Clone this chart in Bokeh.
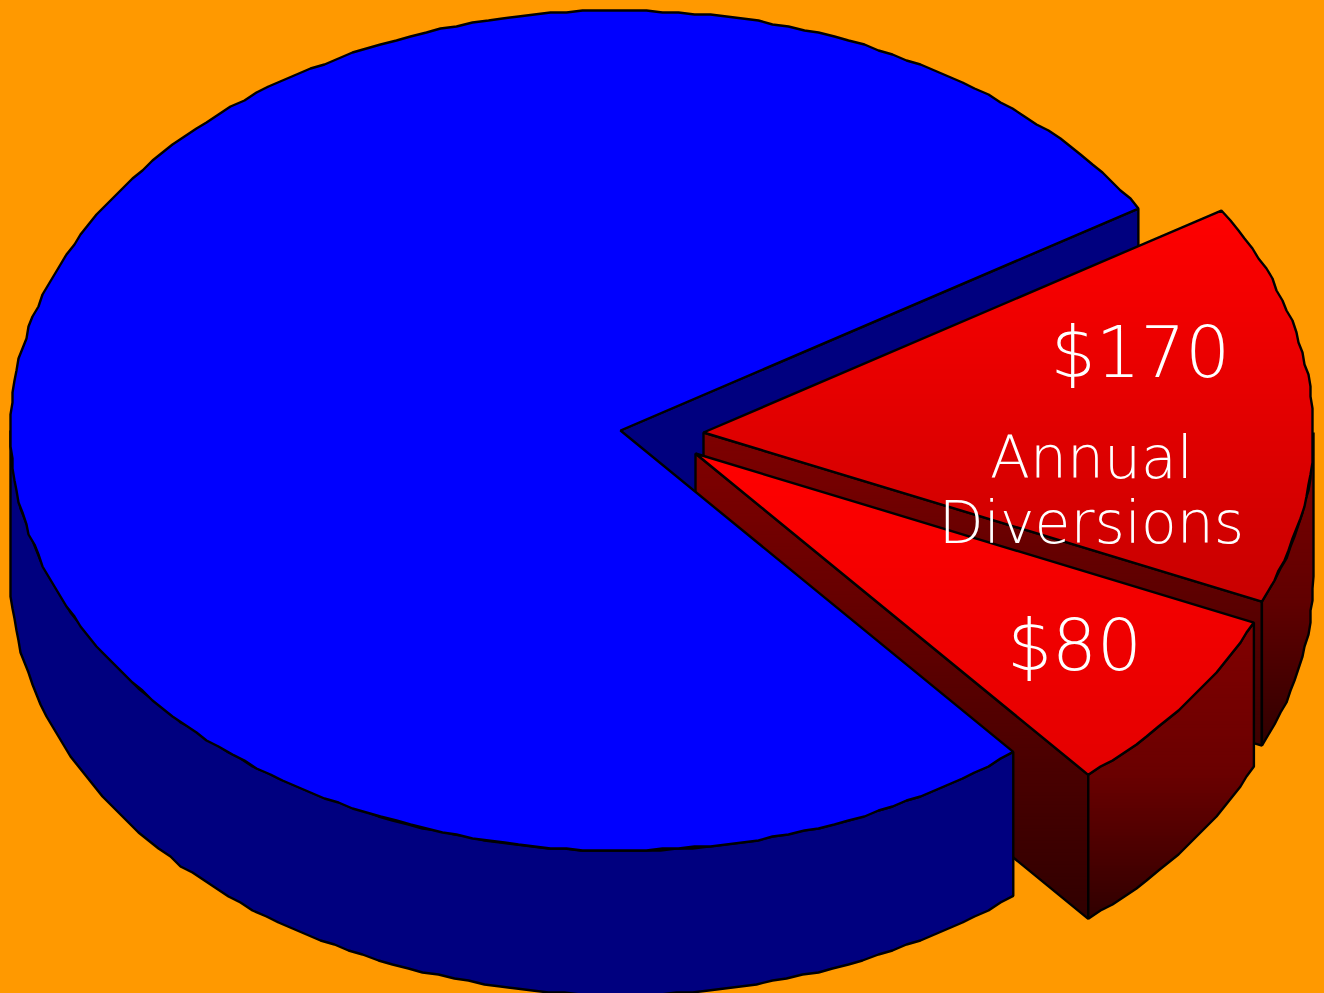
import numpy as np
from bokeh.plotting import figure
from bokeh.embed import file_html
from bokeh.resources import INLINE
from bokeh.core.properties import value

# ---- data ----
slice_names = ["Other", "Annual A", "Annual B"]
slice_values = [850, 170, 80]
value_labels = ["", "$170", "$80"]
caption_lines = ["Annual", "Diversions"]

# ---- layout / style ----
W, H = 1324, 993
CX, CY, RX, RY = 620.0, 430.0, 610.0, 420.0
DEPTH = 144.0
START_DEG = 31.9           # where the first red slice begins (clockwise from here)
OFF1 = (83.0, 2.0)
OFF2 = (75.0, 23.0)
BG = "#ff9900"
BLUE, DARKBLUE = "#0000ff", "#00007f"
FONT = "DejaVu Sans Light"
LW = 2.4

total = sum(slice_values)
sweep = [v / total * 360.0 for v in slice_values]
a0 = START_DEG
a1 = a0 - sweep[1]
a2 = a1 - sweep[2]


def arc(cx, cy, d_from, d_to, step=1.5, grid=2.0):
    n = max(2, int(abs(d_to - d_from) / step) + 1)
    t = np.radians(np.linspace(d_from, d_to, n))
    x = cx + RX * np.cos(t)
    y = cy - RY * np.sin(t)
    rx = np.round(x / grid) * grid
    ry = np.round(y / grid) * grid
    rx[0], ry[0], rx[-1], ry[-1] = x[0], y[0], x[-1], y[-1]
    return list(zip(rx.tolist(), ry.tolist()))


def clip(poly, yv, keep_below):
    out = []
    for i in range(len(poly)):
        p, q = poly[i], poly[(i + 1) % len(poly)]
        pin = p[1] >= yv if keep_below else p[1] <= yv
        qin = q[1] >= yv if keep_below else q[1] <= yv
        if pin:
            out.append(p)
        if pin != qin:
            t = (yv - p[1]) / (q[1] - p[1])
            out.append((p[0] + t * (q[0] - p[0]), yv))
    return out


def shift(poly, dy):
    return [(x, y + dy) for x, y in poly]


layers = []


def add_flat(poly, color):
    layers.append(("flat", poly, color))


def add_grad(poly, stops, step=3):
    layers.append(("grad", poly, stops, step))


# inner cut wall of the blue body
apex = (CX, CY)
e0 = (CX + RX * np.cos(np.radians(a0)), CY - RY * np.sin(np.radians(a0)))
add_flat([apex, e0, (e0[0], e0[1] + DEPTH), (CX, CY + DEPTH)], DARKBLUE)

# slice 1
c1 = (CX + OFF1[0], CY + OFF1[1])
top1 = [c1] + arc(c1[0], c1[1], a0, a1)
e1 = top1[-1]
add_grad([c1, e1, (e1[0], e1[1] + DEPTH), (c1[0], c1[1] + DEPTH)], [(432, 0x7f), (747, 0x3c)])
out1 = arc(c1[0], c1[1], 0, a1)
add_grad(out1 + shift(out1, DEPTH)[::-1], [(432, 0x7f), (602, 0x60), (747, 0x30)])
add_grad(top1, [(210, 255), (602, 200)])

# slice 2
c2 = (CX + OFF2[0], CY + OFF2[1])
top2 = [c2] + arc(c2[0], c2[1], a1, a2)
e2 = top2[-1]
add_grad([c2, e2, (e2[0], e2[1] + DEPTH), (c2[0], c2[1] + DEPTH)], [(453, 0x7f), (917, 0x30)])
out2 = arc(c2[0], c2[1], a1, a2)
add_grad(out2 + shift(out2, DEPTH)[::-1], [(623, 0x80), (773, 0x6a), (917, 0x30)])
add_grad(top2, [(453, 255), (773, 228)])

# blue body
outb = arc(CX, CY, -180, a2)
add_flat(outb + shift(outb, DEPTH)[::-1], DARKBLUE)
add_flat([apex] + arc(CX, CY, a2, a0 - 360.0), BLUE)

p = figure(width=W, height=H, x_range=(0, W), y_range=(H, 0), toolbar_location=None,
           output_backend="svg", min_border=0, background_fill_color=BG,
           border_fill_color=BG, outline_line_color=None)
p.axis.visible = False
p.grid.visible = False
p.styles = {"position": "fixed", "left": "0", "top": "0", "background": BG}

for layer in layers:
    if layer[0] == "flat":
        _, poly, color = layer
        p.patch([q[0] for q in poly], [q[1] for q in poly], fill_color=color, line_color="black", line_width=LW)
    else:
        _, poly, stops, step = layer
        ymin, ymax = min(q[1] for q in poly), max(q[1] for q in poly)
        xs, ys, cols = [], [], []
        y = float(np.floor(ymin))
        sy = [s[0] for s in stops]
        sv = [s[1] for s in stops]
        while y < ymax:
            # every band reaches past the next one, which is painted over it: no seams
            b = clip(clip(poly, max(y, ymin), True), min(y + step + 3, ymax), False)
            if len(b) >= 3:
                xs.append([q[0] for q in b])
                ys.append([q[1] for q in b])
                r = int(round(float(np.interp(y + step / 2, sy, sv))))
                cols.append(f"#{r:02x}0000")
            y += step
        p.patches(xs, ys, fill_color=cols, line_color=None)
        p.patch([q[0] for q in poly], [q[1] for q in poly], fill_color=None, line_color="black", line_width=LW)

TXT = dict(text_color="white", text_font=value(FONT), text_baseline="alphabetic", text_align="center")
p.text([1140], [352.5], text=[value_labels[1]], text_font_size="70.5px", **TXT)
p.text([1091, 1091], [457.5, 522.5], text=caption_lines, text_font_size="58.4px", **TXT)
p.text([1074], [645.5], text=[value_labels[2]], text_font_size="70.5px", **TXT)

open("out.html", "w").write(file_html(p, INLINE))
